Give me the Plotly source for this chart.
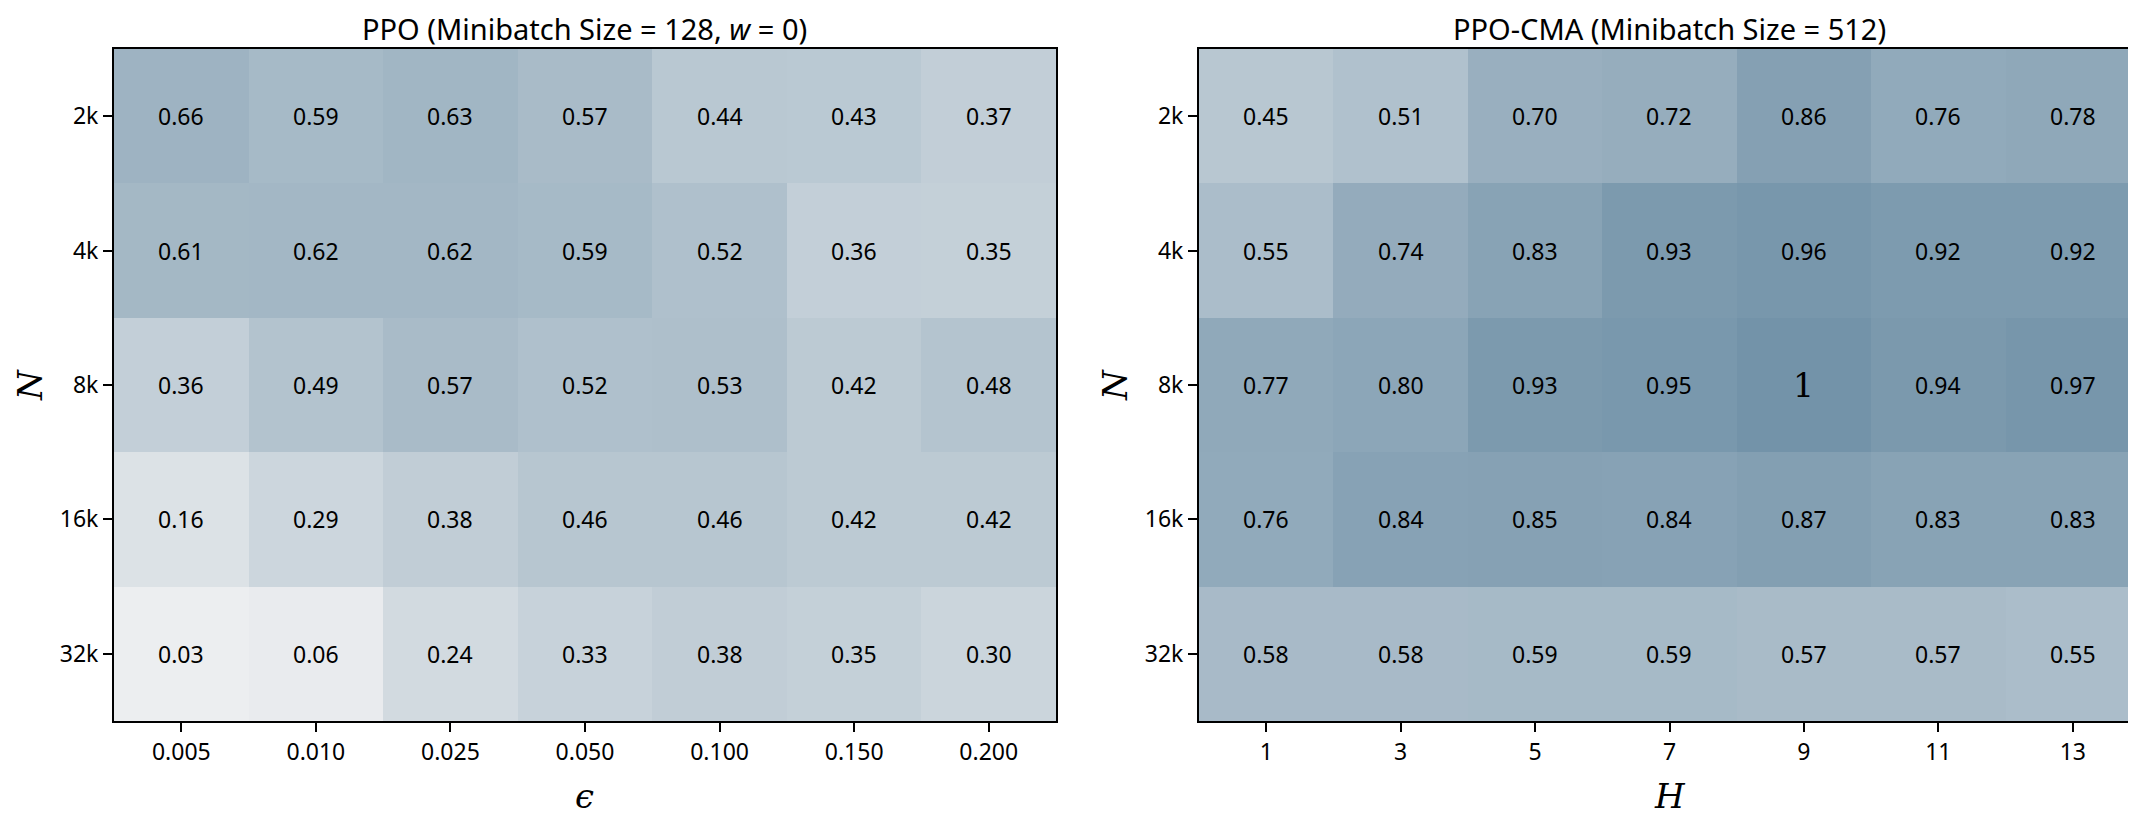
import plotly.graph_objects as go

# values
n_labels = ["2k", "4k", "8k", "16k", "32k"]
eps_labels = ["0.005", "0.010", "0.025", "0.050", "0.100", "0.150", "0.200"]
h_labels = ["1", "3", "5", "7", "9", "11", "13"]

ppo = [
    [0.66, 0.59, 0.63, 0.57, 0.44, 0.43, 0.37],
    [0.61, 0.62, 0.62, 0.59, 0.52, 0.36, 0.35],
    [0.36, 0.49, 0.57, 0.52, 0.53, 0.42, 0.48],
    [0.16, 0.29, 0.38, 0.46, 0.46, 0.42, 0.42],
    [0.03, 0.06, 0.24, 0.33, 0.38, 0.35, 0.30],
]
ppo_cma = [
    [0.45, 0.51, 0.70, 0.72, 0.86, 0.76, 0.78],
    [0.55, 0.74, 0.83, 0.93, 0.96, 0.92, 0.92],
    [0.77, 0.80, 0.93, 0.95, 1.00, 0.94, 0.97],
    [0.76, 0.84, 0.85, 0.84, 0.87, 0.83, 0.83],
    [0.58, 0.58, 0.59, 0.59, 0.57, 0.57, 0.55],
]

W, H = 2136, 813
scale = [[0.0, "#f0f1f2"], [1.0, "#7393a9"]]
sans = "Noto Sans"
serif = "DejaVu Serif"

fig = go.Figure()

panels = [
    (ppo, eps_labels, "x", "y", "PPO (Minibatch Size = 128, <i>w</i> = 0)", "<i>ϵ</i>"),
    (ppo_cma, h_labels, "x2", "y2", "PPO-CMA (Minibatch Size = 512)", "<i>H</i>"),
]
domains = [(106 / W, 1048 / W), (1191 / W, 2132 / W)]
ydom = (1 - 713 / H, 1 - 41 / H)

for (z, xl, xa, ya, title, xlabel), dom in zip(panels, domains):
    fig.add_trace(go.Heatmap(
        z=z, x=xl, y=n_labels, xaxis=xa, yaxis=ya,
        colorscale=scale, zmin=0, zmax=1, showscale=False,
        hoverinfo="skip",
    ))
    # cell labels, placed by category index on the axes
    for i, row in enumerate(z):
        for j, v in enumerate(row):
            if v == 1:
                txt, fnt = "1", dict(family=serif, size=33, color="black")
            else:
                txt, fnt = f"{v:.2f}", dict(family=sans, size=23, color="black")
            fig.add_annotation(x=j, y=i, xref=xa, yref=ya,
                               text=txt, showarrow=False, font=fnt)
    cx = (dom[0] + dom[1]) / 2
    fig.add_annotation(x=cx, y=1 - 20 / H, xref="paper", yref="paper",
                       xanchor="center", yanchor="middle",
                       text=title, showarrow=False,
                       font=dict(family=sans, size=29, color="black"))
    fig.add_annotation(x=cx, y=1 - 788 / H, xref="paper", yref="paper",
                       xanchor="center", yanchor="middle",
                       text=xlabel, showarrow=False,
                       font=dict(family=serif, size=34, color="black"))
    fig.add_annotation(x=dom[0] - 84 / W, y=sum(ydom) / 2, xref="paper", yref="paper",
                       xanchor="center", yanchor="middle",
                       text="<i>N</i>", showarrow=False, textangle=-90,
                       font=dict(family=serif, size=34, color="black"))

axis_style = dict(type="category", showline=True, linecolor="black", linewidth=2,
                  mirror=True, ticks="outside", ticklen=9, tickwidth=1.5,
                  tickcolor="black", showgrid=False, zeroline=False,
                  tickfont=dict(family=sans, size=23, color="black"))

fig.update_layout(
    width=W, height=H,
    margin=dict(l=0, r=0, t=0, b=0),
    paper_bgcolor="white", plot_bgcolor="white",
    xaxis=dict(domain=domains[0], anchor="y", **axis_style),
    yaxis=dict(domain=ydom, anchor="x", autorange="reversed", **axis_style),
    xaxis2=dict(domain=domains[1], anchor="y2", **axis_style),
    yaxis2=dict(domain=ydom, anchor="x2", autorange="reversed", **axis_style),
)

fig.write_html("out.html")
